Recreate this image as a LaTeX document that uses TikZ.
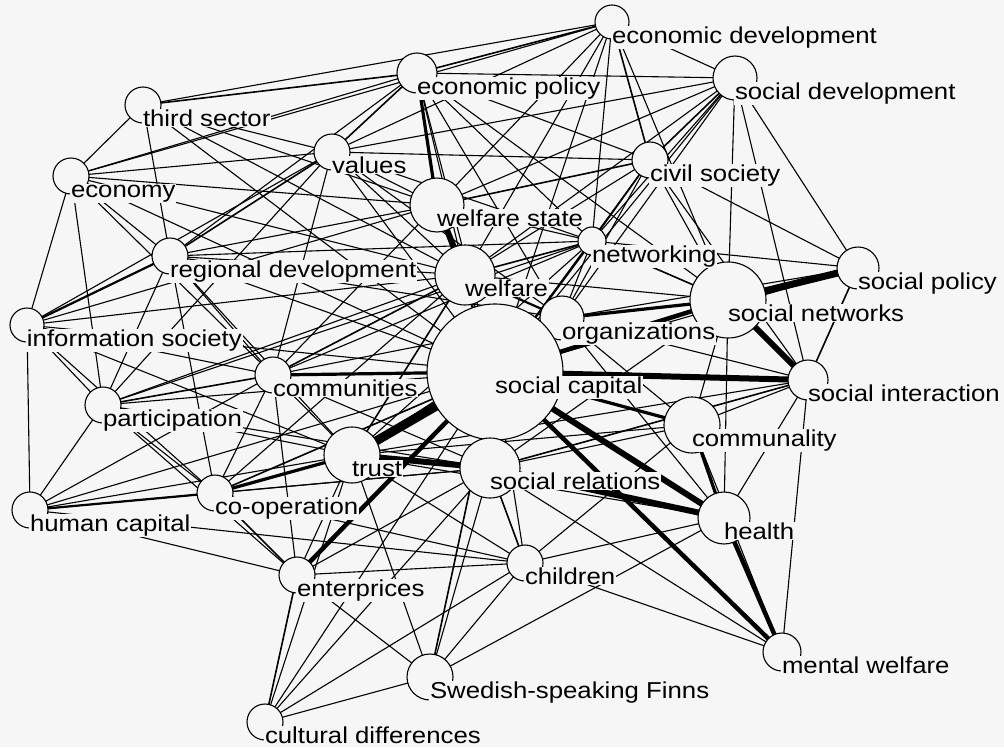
\documentclass[tikz,border=0pt]{standalone}
\usepackage{fontspec}
\setmainfont{Liberation Sans}[FakeStretch=1.12]
\definecolor{bg}{RGB}{246,246,246}
\pgfdeclarelayer{bglayer}
\pgfdeclarelayer{edges}
\pgfsetlayers{bglayer,edges,main}
\tikzset{
  nd/.style={circle, draw=black, fill=bg, line width=1.1pt, inner sep=0pt},
  lb/.style={anchor=base west, fill=bg, inner sep=0.8pt, font=\fontsize{23}{26}\selectfont},
}
\begin{document}
\begin{tikzpicture}[x=1pt,y=-1pt]
\begin{pgfonlayer}{bglayer}
\fill[bg] (0,0) rectangle (1004,747);
\end{pgfonlayer}
\useasboundingbox (0,0) rectangle (1004,747);
% circles
\foreach \n/\x/\y/\r in {ED/612/22/17, EP/417/73/20, SD/735/78/22, TS/143/105/18, VA/332/152/18,
  CS/650/160/18, EC/71/176/18, WS/437/205/27, NW/592/241/14, WE/465/275/30, RD/170/256/18,
  SN/728/300/38, SP/858/268/21, OR/562/318/22, IS/27/325/17, SC/495/372/68, CM/273/375/18,
  SI/808/380/20, PA/103/405/18, CO/692/425/28, TR/352/455/28, SR/490/468/30, CP/215/493/18,
  HC/30/510/18, HE/724/518/26, EN/297/575/18, CH/525/563/18, MW/782/652/19, SF/430/677/23,
  CD/265/722/18}
  {\node[nd, minimum size={2*\r pt}] (\n) at (\x,\y) {};}
% labels
\foreach \n/\t in {ED/economic development, EP/economic policy, SD/social development,
  TS/third sector, VA/values, CS/civil society, EC/economy, WS/welfare state, NW/networking,
  WE/welfare, RD/regional development, SN/social networks, SP/social policy, OR/organizations,
  IS/information society, SC/social capital, CM/communities, SI/social interaction,
  PA/participation, CO/communality, TR/trust, SR/social relations, CP/co-operation,
  HC/human capital, HE/health, EN/enterprices, CH/children, MW/mental welfare,
  SF/Swedish-speaking Finns, CD/cultural differences}
  {\node[lb] (\n l) at ([xshift=-1pt,yshift=-21pt]\n.center) {\t};}
% edges
\begin{pgfonlayer}{edges}
\foreach \a/\b/\w in {
  ED/EP/1.6, ED/TS/1.1, ED/VA/1.1, ED/SD/1.1, ED/CS/1.6, ED/WS/1.1, ED/WE/1.1, ED/NW/1.1, ED/SC/1.1, ED/SN/1.1, ED/EC/1.1,
  EP/TS/1.6, EP/VA/1.6, EP/EC/1.1, EP/WE/1.1, EP/CS/1.1, EP/SD/1.1, EP/NW/1.1, EP/SC/1.1, EP/RD/1.1, EP/OR/1.1, EP/SN/1.1,
  SD/VA/1.1, SD/CS/1.6, SD/WS/1.1, SD/WE/1.1, SD/NW/1.1, SD/SC/1.1, SD/SN/1.1, SD/SP/1.1, SD/SI/1.1, SD/OR/1.1,
  CS/VA/1.1, CS/WS/1.6, CS/WE/1.1, CS/NW/1.6, CS/OR/1.1, CS/SN/1.1, CS/SP/1.1, CS/SC/1.1, CS/SI/1.1,
  VA/TS/1.1, VA/EC/1.1, VA/RD/1.6, VA/IS/1.1, VA/WS/1.1, VA/WE/1.1, VA/SC/1.1, VA/CM/1.1, VA/NW/1.1, VA/OR/1.1, VA/PA/1.1,
  EC/TS/1.1, EC/RD/1.1, EC/IS/1.1, EC/PA/1.1, EC/WS/1.1, EC/WE/1.1, EC/SC/1.1, EC/CM/1.1,
  TS/WS/1.1, TS/RD/1.1, TS/SC/1.1, TS/WE/1.1,
  RD/IS/2.2, RD/PA/1.1, RD/CM/1.1, RD/WS/1.1, RD/WE/1.1, RD/SC/1.1, RD/TR/1.1, RD/CP/1.1, RD/NW/1.1, RD/OR/1.1,
  IS/PA/1.1, IS/HC/1.1, IS/CM/1.1, IS/TR/1.1, IS/CP/1.1, IS/SC/1.1, IS/WE/1.1, IS/WS/1.1,
  PA/HC/1.1, PA/CM/1.6, PA/TR/1.1, PA/CP/1.1, PA/SC/1.1, PA/EN/1.1, PA/WE/1.1, PA/SR/1.1, PA/NW/1.1,
  HC/CP/2.2, HC/TR/1.1, HC/SC/1.1, HC/CM/1.1, HC/EN/1.1, HC/SR/1.1, HC/CH/1.1,
  CM/TR/1.1, CM/CP/1.1, CM/WE/1.6, CM/WS/1.1, CM/SR/1.1, CM/EN/1.1, CM/OR/1.1, CM/SC/3.2, CM/NW/1.1,
  CP/SC/1.6, CP/SR/1.1, CP/EN/1.6, CP/CH/1.1, TR/CP/3.2, CP/WE/1.1,
  TR/EN/1.1, TR/SF/1.1, TR/CD/1.1, TR/CH/1.1, TR/HE/1.1, TR/CO/1.1, TR/WE/1.6, TR/OR/1.1, TR/SI/1.1, TR/NW/1.1,
  EN/SR/1.1, EN/CD/1.6, EN/SF/1.1, EN/CH/1.1,
  CD/SF/1.1, CD/SR/1.1, CD/SC/1.1, CD/CH/1.1,
  SF/SC/1.6, SF/SR/1.1, SF/CH/1.1, SF/HE/1.1,
  CH/SR/1.6, CH/SC/1.1, CH/HE/1.1, CH/MW/1.1, CH/CO/1.1,
  MW/SR/1.1, MW/CO/1.1, MW/SI/1.1,
  HE/SI/1.1, HE/SN/1.1, HE/OR/1.1, CO/SI/1.1, CO/SN/1.1, CO/SR/1.1, CO/OR/1.1,
  SI/SP/1.6, SI/OR/1.1, SI/SR/1.6, SP/NW/1.1, SP/OR/1.1, SP/SC/1.1, SN/SR/1.1,
  SN/NW/1.6, SN/WE/1.1, OR/NW/1.1, NW/WS/1.1, NW/WE/1.6, WE/SC/1.6,
  WS/SC/2.2, WS/WE/6, EP/WS/3.2, TR/SC/9, TR/SR/6, SC/SI/6, SC/SN/4.5, SN/SI/6, SN/SP/7,
  SC/HE/6, SC/MW/4.5, SR/HE/6, HE/MW/4.5, CO/HE/3.2, SC/EN/4.5, SC/OR/4.5, SC/CO/3.2,
  OR/SN/3.2, SC/SR/3.2, WE/OR/2.2, NW/SC/2.2}
  {\draw[line width=\w pt] (\a.center) -- (\b.center);}
\end{pgfonlayer}
\end{tikzpicture}
\end{document}
